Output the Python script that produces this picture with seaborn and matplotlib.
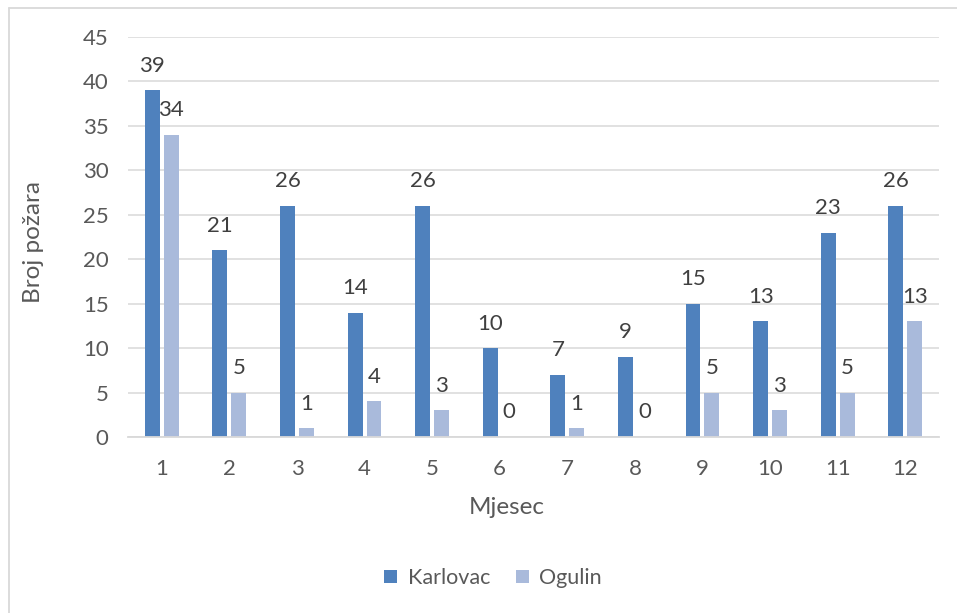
import matplotlib
matplotlib.use("Agg")
import matplotlib.pyplot as plt
import seaborn as sns
import pandas as pd
from matplotlib.lines import Line2D
from matplotlib.patches import Patch

months = ["1", "2", "3", "4", "5", "6", "7", "8", "9", "10", "11", "12"]
karlovac = [39, 21, 26, 14, 26, 10, 7, 9, 15, 13, 23, 26]
ogulin = [34, 5, 1, 4, 3, 0, 1, 0, 5, 3, 5, 13]
series = ["Karlovac", "Ogulin"]
colors = ["#4F81BD", "#A9BADB"]
y_ticks = [0, 5, 10, 15, 20, 25, 30, 35, 40, 45]

df = pd.DataFrame({
    "Mjesec": months * 2,
    "Broj": karlovac + ogulin,
    "Grad": ["Karlovac"] * len(months) + ["Ogulin"] * len(months),
})

sns.set_theme(style="white")
plt.rcParams["font.family"] = ["Lato", "DejaVu Sans"]

fig = plt.figure(figsize=(9.57, 6.13), dpi=100)
ax = fig.add_axes([128 / 957, 1 - 437 / 613, 811 / 957, 400 / 613])

sns.barplot(data=df, x="Mjesec", y="Broj", hue="Grad", order=months,
            hue_order=series, palette=colors, width=0.56, gap=0.21,
            saturation=1, legend=False, ax=ax, edgecolor="none")

ax.set_ylim(0, 45)
ax.set_xlim(-0.5, len(months) - 0.5)
ax.set_yticks(y_ticks)
ax.yaxis.grid(True, color="#D9D9D9", linewidth=1.1)
ax.set_axisbelow(True)
for s in ["top", "right", "left"]:
    ax.spines[s].set_visible(False)
ax.spines["bottom"].set_color("#D9D9D9")
ax.spines["bottom"].set_linewidth(1.3)
ax.tick_params(axis="both", length=0, labelsize=16, colors="#595959")
ax.tick_params(axis="y", pad=14)
ax.tick_params(axis="x", pad=16)
ax.set_xlabel("")
ax.set_ylabel("")

for cont in ax.containers:
    ax.bar_label(cont, labels=[f"{int(b.get_height())}" for b in cont],
                 padding=10.5, fontsize=16, color="#404040")

fig.text(33 / 957, 1 - 242 / 613, "Broj požara", rotation=90, ha="center",
         va="center", fontsize=17.5, color="#595959")
fig.text(507 / 957, 1 - 508 / 613, "Mjesec", ha="center", va="center",
         fontsize=17.5, color="#595959")

handles = [Patch(facecolor=c, edgecolor="none", label=l) for c, l in zip(colors, series)]
fig.legend(handles=handles, loc="center", bbox_to_anchor=(493 / 957, 1 - 578 / 613),
           ncol=2, frameon=False, fontsize=15.5, handlelength=0.6, handleheight=0.6,
           handletextpad=0.5, columnspacing=1.2, labelcolor="#595959")

# outer chart frame (left and top edges visible)
fig.add_artist(Line2D([8.5 / 957, 8.5 / 957], [0, 1 - 7.5 / 613],
                      transform=fig.transFigure, color="#D9D9D9", linewidth=1.3))
fig.add_artist(Line2D([8.5 / 957, 1], [1 - 7.5 / 613, 1 - 7.5 / 613],
                      transform=fig.transFigure, color="#D9D9D9", linewidth=1.3))

fig.savefig("out.png", dpi=100)
